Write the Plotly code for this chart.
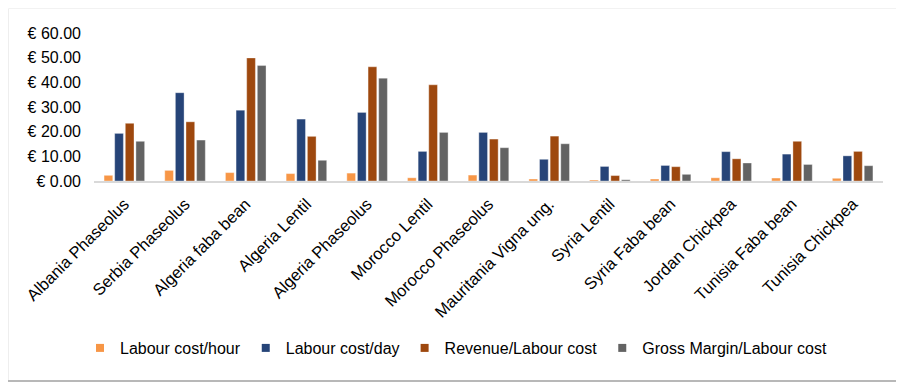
import plotly.graph_objects as go

categories = ["Albania Phaseolus", "Serbia Phaseolus", "Algeria faba bean", "Algeria Lentil",
              "Algeria Phaseolus", "Morocco Lentil", "Morocco Phaseolus", "Mauritania Vigna ung.",
              "Syria Lentil", "Syria Faba bean", "Jordan Chickpea", "Tunisia Faba bean",
              "Tunisia Chickpea"]

labour_cost_hour = [2.3, 4.3, 3.4, 3.0, 3.2, 1.3, 2.4, 0.8, 0.4, 0.8, 1.3, 1.2, 1.1]
labour_cost_day = [19.3, 35.8, 28.7, 25.1, 27.8, 12.0, 19.7, 8.8, 5.9, 6.3, 11.9, 10.9, 10.2]
revenue_labour = [23.4, 24.0, 49.9, 18.1, 46.3, 39.0, 17.0, 18.2, 2.2, 5.8, 9.0, 16.1, 12.0]
gross_margin_labour = [16.1, 16.6, 46.8, 8.4, 41.7, 19.7, 13.5, 15.1, 0.5, 2.7, 7.3, 6.7, 6.2]

series_names = ["Labour cost/hour", "Labour cost/day", "Revenue/Labour cost", "Gross Margin/Labour cost"]
series_values = [labour_cost_hour, labour_cost_day, revenue_labour, gross_margin_labour]
colors = ["#F79646", "#264478", "#9E480E", "#636363"]

FONT = "Liberation Sans, Arial, sans-serif"
# page has an 8px body margin, so the figure is drawn 8px in from the window edge
OFF = 8
W, H = 904 - OFF, 382 - OFF
ML, MR, MT, MB = 94 - OFF, 21, 33 - OFF, 201

fig = go.Figure()
for name, vals, col in zip(series_names, series_values, colors):
    fig.add_trace(go.Bar(
        x=categories, y=vals, name=name, marker_color=col,
        marker_line=dict(color="rgba(255,255,255,0.6)", width=0.6),
        showlegend=False,
    ))
for name, col in zip(series_names, colors):
    fig.add_trace(go.Scatter(
        x=[None], y=[None], mode="markers", name=name,
        marker=dict(symbol="square", size=8, color=col),
    ))

pw = W - ML - MR
ph = H - MT - MB
def px2x(p):
    return (p - OFF - ML) / pw
def py2y(p):
    return (H - MB - (p - OFF)) / ph

# card edges: faint left/top, darker bottom shadow
fig.add_shape(type="line", xref="paper", yref="paper",
              x0=px2x(8.5), x1=px2x(8.5), y0=py2y(380), y1=py2y(8.5),
              line=dict(color="#eeeeee", width=1), layer="below")
fig.add_shape(type="line", xref="paper", yref="paper",
              x0=px2x(8.5), x1=px2x(904), y0=py2y(8.5), y1=py2y(8.5),
              line=dict(color="#f2f2f2", width=1), layer="below")
fig.add_shape(type="line", xref="paper", yref="paper",
              x0=px2x(8), x1=px2x(904), y0=py2y(381), y1=py2y(381),
              line=dict(color="#b8b8b8", width=2), layer="below")

fig.update_layout(
    width=W, height=H,
    margin=dict(l=ML, r=MR, t=MT, b=MB, autoexpand=False),
    paper_bgcolor="white", plot_bgcolor="white",
    barmode="group", bargap=0.3, bargroupgap=0.18,
    font=dict(family=FONT, size=16, color="#000000"),
    legend=dict(orientation="h", x=px2x(456), xanchor="center", y=py2y(348), yanchor="middle",
                font=dict(size=16), itemwidth=30, tracegroupgap=0),
    showlegend=True,
)
fig.update_xaxes(
    type="category", tickangle=-45, showgrid=False, automargin=False,
    showline=True, linecolor="#d9d9d9", linewidth=2,
    ticks="", tickfont=dict(size=16.5), ticklabelstandoff=5,
)
fig.update_yaxes(
    range=[0, 60], dtick=10, tickprefix="€ ", tickformat=".2f", automargin=False,
    showgrid=False, zeroline=False, showline=False, ticks="",
    tickfont=dict(size=16), ticklabelstandoff=12,
)

fig.write_html("out.html")
